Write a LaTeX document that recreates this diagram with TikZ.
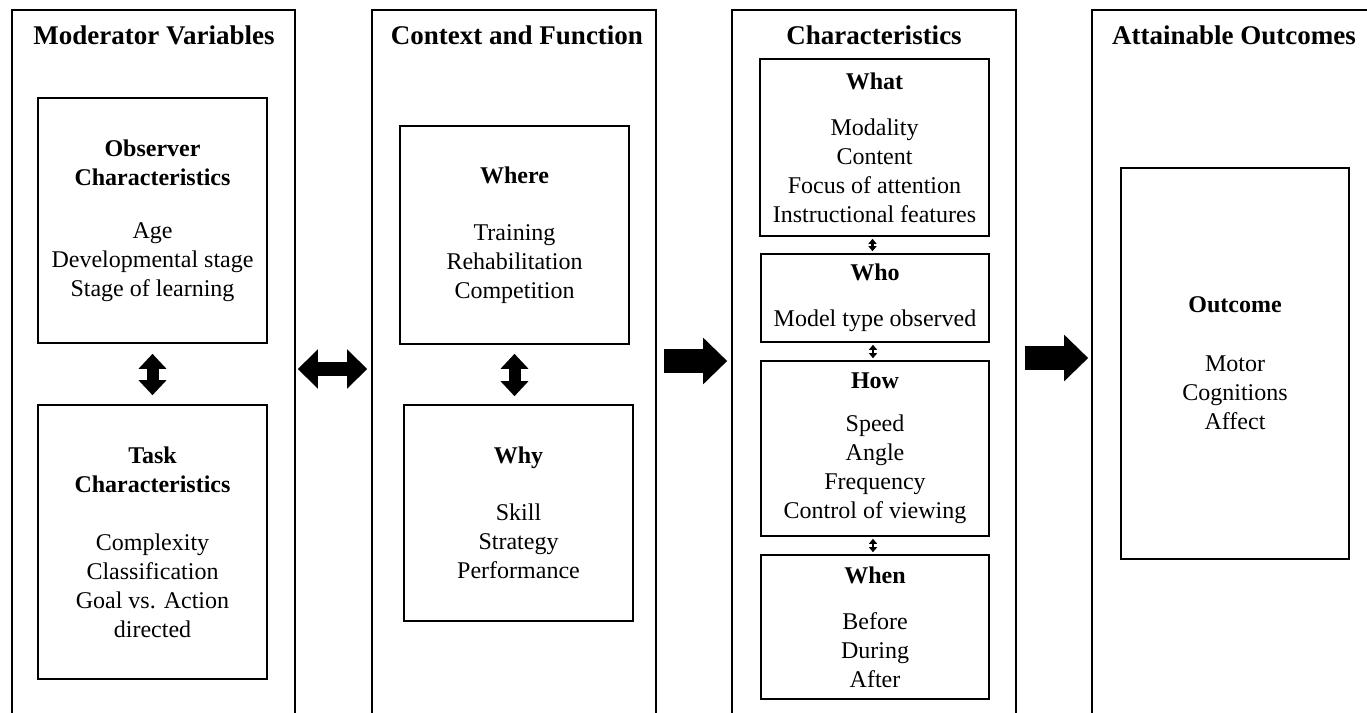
\documentclass[tikz,border=0pt]{standalone}
\usepackage{fontspec}
\setmainfont{Liberation Serif}
\usepackage{tikz}
\usetikzlibrary{arrows.meta,positioning}

\tikzset{
  panel/.style={draw, line width=1.6pt, minimum width=284pt, minimum height=710pt, inner sep=0pt},
  cell/.style={draw, line width=1.6pt, minimum width=229pt, align=center, inner sep=0pt,
    font=\fontsize{24}{29}\selectfont},
  heading/.style={font=\fontsize{27}{32}\selectfont\bfseries},
  bigarrow/.style={line width=24pt, -{Triangle[length=24pt,width=45pt]}},
  sidearrow/.style={line width=14pt, {Triangle[length=20pt,width=38pt]}-{Triangle[length=20pt,width=38pt]}},
  updown/.style={line width=12pt, {Triangle[length=15pt,width=27pt]}-{Triangle[length=15pt,width=27pt]}},
  tinyarrow/.style={line width=2.4pt, {Triangle[length=5pt,width=8pt]}-{Triangle[length=5pt,width=8pt]}}
}

\begin{document}
\begin{tikzpicture}[x=1pt, y=-1pt]
      \useasboundingbox (0,0) rectangle (1367,712);
      \clip (0,0) rectangle (1367,712);

      % Define panels
      \node[panel, minimum width=283pt] (mod) at (153.5,365) {};
      \node[panel] (ctx) at (514,365) {};
      \node[panel] (chr) at (874,365) {};
      \node[panel, minimum width=290pt] (out) at (1237,365) {};

      \node[heading] (modtitle) at (154,35) {Moderator Variables};
      \node[heading] (ctxtitle) at (517,35) {Context and Function};
      \node[heading] (chrtitle) at (874,35) {Characteristics};
      \node[heading] (outtitle) at (1234,35) {Attainable Outcomes};

      % Define boxes
      \node[cell, minimum height=245pt] (obs) at (152.5,220.5)
        {\textbf{Observer}\\\textbf{Characteristics}\\[24pt]Age\\Developmental stage\\Stage of learning};
      \node[cell, minimum height=274pt] (task) at (152.5,542)
        {\textbf{Task}\\\textbf{Characteristics}\\[29pt]Complexity\\Classification\\Goal vs. Action\\directed};
      \node[cell, minimum height=218pt] (where) at (514.5,235)
        {\textbf{Where}\\[28pt]Training\\Rehabilitation\\Competition};
      \node[cell, minimum height=216pt] (why) at (518.5,513)
        {\textbf{Why}\\[28pt]Skill\\Strategy\\Performance};
      \node[cell, minimum height=177pt] (what) at (874.5,147.5)
        {\textbf{What}\\[17pt]Modality\\Content\\Focus of attention\\Instructional features};
      \node[cell, minimum width=228pt, minimum height=88pt] (who) at (875,298)
        {\textbf{Who}\\[17pt]Model type observed};
      \node[cell, minimum width=228pt, minimum height=175pt] (how) at (875,448.5)
        {\textbf{How}\\[14pt]Speed\\Angle\\Frequency\\Control of viewing};
      \node[cell, minimum width=228pt, minimum height=144pt] (when) at (875,627)
        {\textbf{When}\\[17pt]Before\\During\\After};
      \node[cell, minimum width=228pt, minimum height=391pt] (outcome) at (1235,363.5)
        {\textbf{Outcome}\\[30pt]Motor\\Cognitions\\Affect};

      % Draw arrows
      \draw[sidearrow, shorten <=2pt, shorten >=4pt] ([yshift=-4pt]mod.east) -- ([yshift=-4pt]ctx.west);
      \draw[bigarrow, shorten <=7pt, shorten >=4pt] ([yshift=4pt]ctx.east) -- ([yshift=4pt]chr.west);
      \draw[bigarrow, shorten <=8pt, shorten >=3pt] ([yshift=7pt]chr.east) -- ([yshift=7pt]out.west);
      \draw[updown, shorten <=10pt, shorten >=9pt] (obs.south) -- (task.north);
      \draw[updown, shorten <=9pt, shorten >=8pt] (where.south) -- (where.south |- why.north);
      \draw[tinyarrow, shorten <=2pt, shorten >=2pt] ([xshift=-2pt]what.south) -- ([xshift=-2pt]what.south |- who.north);
      \draw[tinyarrow, shorten <=2pt, shorten >=2pt] ([xshift=-2pt]who.south) -- ([xshift=-2pt]who.south |- how.north);
      \draw[tinyarrow, shorten <=2pt, shorten >=2pt] ([xshift=-2pt]how.south) -- ([xshift=-2pt]how.south |- when.north);
\end{tikzpicture}
\end{document}
